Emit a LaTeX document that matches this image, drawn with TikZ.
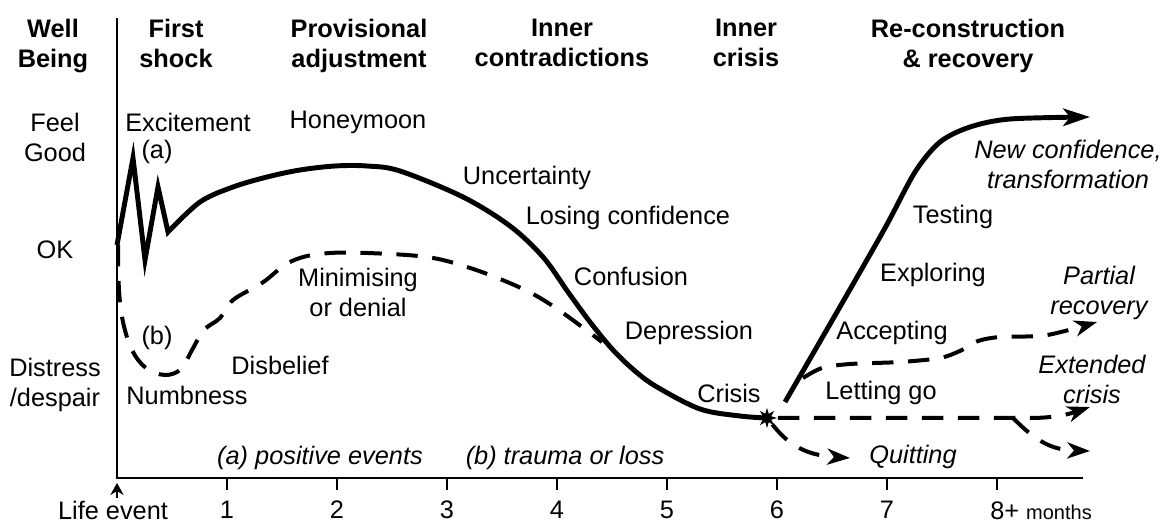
\documentclass[tikz,border=0pt]{standalone}
\usepackage{fontspec}
\setmainfont{Liberation Sans}
\usetikzlibrary{arrows.meta,shapes.geometric}

\tikzset{
  lbl/.style={font=\fontsize{19}{22.5}\selectfont, align=center, inner sep=0pt},
  hdr/.style={lbl, font=\fontsize{19}{22.5}\selectfont\bfseries, anchor=north},
  itl/.style={lbl, font=\fontsize{19}{22.5}\selectfont\itshape},
  axisline/.style={line width=1.2pt},
  goodline/.style={line width=3.7pt, line join=miter},
  dashline/.style={line width=3pt, dash pattern=on 16pt off 11pt},
  bigtip/.style={-{Stealth[length=20pt,width=13pt,inset=5pt]}},
  smalltip/.style={-{Stealth[length=17pt,width=12pt,inset=5pt]}},
}

\begin{document}
\begin{tikzpicture}[x=0.75pt,y=-0.75pt]
\useasboundingbox (0,0) rectangle (1163,523);

% headers
\node[hdr] (wellbeing) at (53,19) {Well\\Being};
\node[hdr] (firstshock) at (176,19) {First\\shock};
\node[hdr] (provisional) at (359,19) {Provisional\\adjustment};
\node[hdr] (contradictions) at (562,19) {Inner\\contradictions};
\node[hdr] (innercrisis) at (746,19) {Inner\\crisis};
\node[hdr] (reconstruction) at (968,19) {Re-construction\\\& recovery};

% well being levels
\node[lbl, anchor=north] (feelgood) at (55,113) {Feel\\Good};
\node[lbl] (ok) at (55,250) {OK};
\node[lbl, anchor=north] (distress) at (55,358) {Distress\\/despair};

% axes
\coordinate (top) at (117,18);
\coordinate (origin) at (117,478);
\coordinate (xend) at (1083,478);
\draw[axisline] (top) -- (origin) -- (xend);
\foreach \i in {1,...,7} {
  \draw[axisline] (117+110*\i,478) -- (117+110*\i,490);
  \node[lbl] (t\i) at (117+110*\i,510) {\i};
}
\draw[axisline] (997,478) -- (997,490);
\node[lbl, anchor=base west] (t8) at (990,519) {8+ {\fontsize{15}{18}\selectfont months}};
\node[lbl] (lifeevent) at (113,510) {Life event};
\coordinate (evt) at (117,483);
\draw[line width=2pt, shorten <=2pt, -{Stealth[length=9pt,width=10pt]}] (lifeevent.north -| evt) -- (evt);

% stage labels
\node[lbl] (excitement) at (188,122) {Excitement};
\node[lbl] (a) at (157,152) {(a)};
\node[lbl] (honeymoon) at (358,122) {Honeymoon};
\node[lbl] (uncertainty) at (527,178) {Uncertainty};
\node[lbl] (losing) at (628,218) {Losing confidence};
\node[lbl] (confusion) at (631,276) {Confusion};
\node[lbl] (depression) at (689,333) {Depression};
\node[lbl] (crisis) at (729,393) {Crisis};
\node[lbl, anchor=north] (minimising) at (358,268) {Minimising\\or denial};
\node[lbl] (b) at (157,338) {(b)};
\node[lbl] (disbelief) at (280,365) {Disbelief};
\node[lbl] (numbness) at (187,395) {Numbness};
\node[itl] (positive) at (320,458) {(a) positive events};
\node[itl] (trauma) at (565,458) {(b) trauma or loss};
\node[lbl] (testing) at (953,217) {Testing};
\node[lbl] (exploring) at (933,275) {Exploring};
\node[itl, anchor=north] (newconf) at (1068,140) {New confidence,\\transformation};
\node[itl, anchor=north] (partial) at (1099,266) {Partial\\recovery};
\node[lbl] (accepting) at (892,333) {Accepting};
\node[itl, anchor=north] (extended) at (1092,355) {Extended\\crisis};
\node[lbl] (lettinggo) at (881,393) {Letting go};
\node[itl] (quitting) at (913,457) {Quitting};

% crisis point
\node[star, star points=8, star point ratio=2.2, fill, inner sep=0pt, minimum size=15pt] (crisispt) at (767,418) {};

% (a) positive events
\draw[goodline] (117,245) -- (133,158) -- (145,260) -- (158,187) -- (168,232)
  -- plot[smooth, tension=0.55] coordinates {(168,232) (200,202) (233,187) (267,177) (300,170) (335,166)
  (367,166) (400,171) (463,197) (510,226) (543,257) (568,292) (590,322) (613,350) (635,371)
  (657,387) (700,409) (740,416) (767,418)};

% (b) trauma or loss
\draw[dashline] plot[smooth, tension=0.6] coordinates {(118,245) (119,290) (123,322) (132,350) (146,368)
  (165,375) (181,369) (192,350) (204,330) (220,318) (233,300) (262,283) (292,261) (330,253)
  (390,254) (433,258) (467,267) (500,279) (533,294) (563,313) (602,342)};

% recovery
\draw[goodline, bigtip] plot[smooth, tension=0.5] coordinates {(785,402) (837,312) (885,228) (915,172)
  (940,142) (970,127) (1010,119) (1090,117)};

% partial recovery
\draw[dashline, smalltip] plot[smooth, tension=0.5] coordinates {(803,378) (822,368) (850,364) (900,362)
  (940,358) (962,350) (978,341) (1000,337) (1040,336) (1065,331) (1097,322)};

% extended crisis
\coordinate (fork) at (1013,418);
\draw[dashline, smalltip] (crisispt.east) -- (1030,418) .. controls (1060,418) and (1075,412) .. (1090,407);
\draw[dashline, smalltip] (fork) .. controls (1035,440) and (1050,450) .. (1090,451);

% quitting
\draw[dashline, smalltip] (crisispt) .. controls (785,440) and (800,455) .. (850,458);
\end{tikzpicture}
\end{document}
